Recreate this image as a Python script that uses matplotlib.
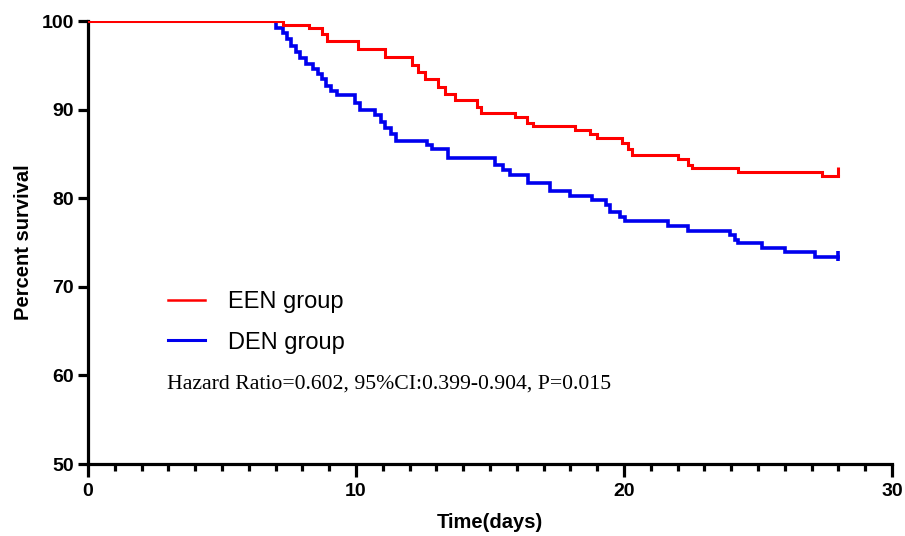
import matplotlib
matplotlib.use("Agg")
import matplotlib.pyplot as plt
from matplotlib.lines import Line2D
from matplotlib.ticker import MultipleLocator

# Kaplan-Meier step data (time in days, percent survival)
een_time = [0, 7.28, 8.25, 8.73, 8.92, 10.07, 11.08, 12.09, 12.31, 12.57, 13.06,
            13.32, 13.69, 14.51, 14.66, 15.93, 16.38, 16.6, 18.17, 18.73, 19.0,
            19.93, 20.15, 20.3, 22.0, 22.4, 22.54, 24.25, 27.39, 28.0]
een_surv = [100, 99.6, 99.2, 98.5, 97.7, 96.8, 95.9, 95.0, 94.2, 93.4, 92.6,
            91.8, 91.1, 90.3, 89.6, 89.2, 88.5, 88.1, 87.7, 87.2, 86.8,
            86.2, 85.6, 84.9, 84.4, 83.8, 83.4, 83.0, 82.5, 82.5]

den_time = [0, 7.0, 7.28, 7.43, 7.57, 7.76, 7.91, 8.13, 8.40, 8.58, 8.73, 8.88,
            9.07, 9.29, 9.96, 10.15, 10.71, 10.93, 11.08, 11.31, 11.49, 12.65,
            12.84, 13.43, 15.19, 15.49, 15.75, 16.42, 17.24, 17.99, 18.81, 19.33,
            19.48, 19.85, 20.04, 21.64, 22.39, 23.96, 24.14, 24.25, 25.15, 26.0,
            27.13, 28.0]
den_surv = [100, 99.2, 98.7, 98.0, 97.2, 96.5, 95.8, 95.2, 94.6, 94.0, 93.4, 92.7,
            92.1, 91.6, 90.8, 90.0, 89.4, 88.6, 87.9, 87.3, 86.5, 86.0,
            85.5, 84.5, 83.8, 83.2, 82.6, 81.7, 80.8, 80.3, 79.8, 79.2,
            78.5, 77.9, 77.4, 76.9, 76.3, 75.8, 75.3, 74.9, 74.4, 73.9,
            73.4, 73.4]

# censored marks at end of follow-up (time, low, high)
een_censor = [28.0, 82.5, 83.5]
den_censor = [28.0, 72.9, 74.0]

group_labels = ["EEN group", "DEN group"]
stat_text = "Hazard Ratio=0.602, 95%CI:0.399-0.904, P=0.015"

red = "#ff0000"
blue = "#0000ee"

fig = plt.figure(figsize=(9.05, 5.36), dpi=100)
ax = fig.add_axes([0.0972, 0.1343, 0.8884, 0.8265])

ax.step(een_time, een_surv, where="post", color=red, lw=2.2, solid_joinstyle="miter", zorder=3)
ax.step(den_time, den_surv, where="post", color=blue, lw=2.6, solid_joinstyle="miter", zorder=2)
ax.vlines(een_censor[0], een_censor[1], een_censor[2], color=red, lw=2.2)
ax.vlines(den_censor[0], den_censor[1], den_censor[2], color=blue, lw=2.6)

ax.set_xlim(0, 30)
ax.set_ylim(50, 100)
ax.set_xticks([0, 10, 20, 30])
ax.xaxis.set_minor_locator(MultipleLocator(1))
ax.set_yticks([50, 60, 70, 80, 90, 100])

for s in ["top", "right"]:
    ax.spines[s].set_visible(False)
for s in ["left", "bottom"]:
    ax.spines[s].set_linewidth(2.3)
    ax.spines[s].set_color("black")

ax.tick_params(axis="x", which="major", direction="out", length=9, width=2.3, pad=5)
ax.tick_params(axis="x", which="minor", direction="out", length=5, width=2.3)
ax.tick_params(axis="y", which="major", direction="out", length=7, width=2.3, pad=3)

fam = ["Liberation Sans", "DejaVu Sans"]
for lab in ax.get_xticklabels() + ax.get_yticklabels():
    lab.set_fontfamily(fam)
    lab.set_fontweight("bold")
    lab.set_fontsize(14)

ax.set_xlabel("Time(days)", fontfamily=fam, fontweight="bold", fontsize=14.5, labelpad=9)
ax.set_ylabel("Percent survival", fontfamily=fam, fontweight="bold", fontsize=14.5, labelpad=6)

handles = [Line2D([0], [0], color=red, lw=1.8), Line2D([0], [0], color=blue, lw=2.2)]
leg = ax.legend(handles, group_labels, loc="upper left", bbox_to_anchor=(0.073, 0.439),
                frameon=False, handlelength=1.55, handletextpad=1.0, labelspacing=0.8,
                prop={"family": fam, "size": 17})

ax.text(0.098, 0.18, stat_text, transform=ax.transAxes, fontfamily=["Liberation Serif", "DejaVu Serif"],
        fontsize=15.7, va="center", ha="left")

fig.savefig("out.png", dpi=100)
